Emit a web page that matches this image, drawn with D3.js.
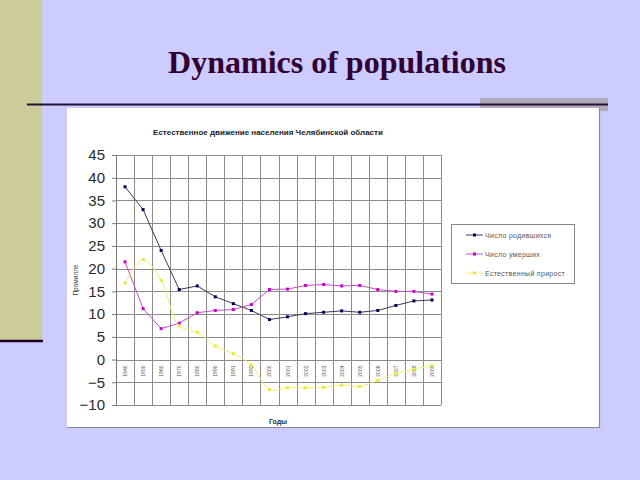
<!DOCTYPE html>
<html>
<head>
<meta charset="utf-8">
<script src="https://cdn.jsdelivr.net/npm/d3@7"></script>
<style>
  html, body { margin: 0; padding: 0; background: #ccccff; }
  svg { display: block; }
</style>
</head>
<body>
<div id="chart"></div>
<script>
// categories (years) and series values, per mille
var years = ["1940", "1950", "1960", "1970", "1980", "1990", "1991", "1992", "2000",
             "2001", "2002", "2003", "2004", "2005", "2006", "2007", "2008", "2009"];
var births = [38, 33, 24, 15.4, 16.2, 13.8, 12.3, 10.8, 8.8,
              9.4, 10.1, 10.4, 10.7, 10.4, 10.8, 11.9, 12.9, 13.1];
var deaths = [21.5, 11.2, 6.8, 8.0, 10.3, 10.8, 11.0, 12.1, 15.4,
              15.5, 16.3, 16.5, 16.2, 16.3, 15.4, 15.0, 15.0, 14.4];
var growth = [16.8, 22, 17.4, 7.4, 6.0, 3.0, 1.3, -1.2, -6.6,
              -6.2, -6.2, -6.1, -5.6, -5.9, -4.6, -3.1, -2.1, -1.3];
var yTicks = [-10, -5, 0, 5, 10, 15, 20, 25, 30, 35, 40, 45];
var seriesNames = ["Число родившихся", "Число умерших", "Естественный прирост"];

var W = 640, H = 480;

var svg = d3.select("#chart").append("svg")
    .attr("width", W)
    .attr("height", H);

// slide background
svg.append("rect").attr("width", W).attr("height", H).attr("fill", "#ccccff");
svg.append("rect").attr("x", 0).attr("y", 0).attr("width", 42).attr("height", 341)
    .attr("fill", "#cccc99");
svg.append("line").attr("x1", 0).attr("x2", 43).attr("y1", 341).attr("y2", 341)
    .attr("stroke", "#220022").attr("stroke-width", 2.5);

svg.append("text")
    .attr("x", 337).attr("y", 73)
    .attr("text-anchor", "middle")
    .attr("font-family", "Liberation Serif, Times New Roman, serif")
    .attr("font-weight", "bold")
    .attr("font-size", 32)
    .attr("fill", "#330033")
    .text("Dynamics of populations");

// rule under title
svg.append("rect").attr("x", 480).attr("y", 98).attr("width", 128).attr("height", 13)
    .attr("fill", "#b0aabb");
svg.append("line").attr("x1", 27).attr("x2", 608).attr("y1", 104.5).attr("y2", 104.5)
    .attr("stroke", "#221133").attr("stroke-width", 2);

// chart panel
svg.append("rect").attr("x", 67).attr("y", 108).attr("width", 532).attr("height", 319)
    .attr("fill", "#ffffff");
svg.append("path").attr("d", "M599.5,108V427.5H67")
    .attr("fill", "none").attr("stroke", "#888899").attr("stroke-width", 1.2);

var margin = {top: 155, left: 116};
var width = 325, height = 250;

var g = svg.append("g")
    .attr("transform", "translate(" + margin.left + "," + margin.top + ")");

var x = d3.scaleBand().domain(years).range([0, width]);
var y = d3.scaleLinear().domain([-10, 45]).range([height, 0]);

// horizontal gridlines
g.selectAll(".hgrid")
    .data(yTicks)
    .enter()
    .append("line")
    .attr("class", "hgrid")
    .attr("x1", 0).attr("x2", width)
    .attr("y1", function(d) { return Math.round(y(d)) + 0.5; })
    .attr("y2", function(d) { return Math.round(y(d)) + 0.5; })
    .attr("stroke", "#8c8c8c").attr("stroke-width", 1);

// vertical gridlines at category boundaries
var bounds = years.map(function(d) { return x(d); }).concat([width]);
g.selectAll(".vgrid")
    .data(bounds)
    .enter()
    .append("line")
    .attr("class", "vgrid")
    .attr("x1", function(d) { return Math.round(d) + 0.5; })
    .attr("x2", function(d) { return Math.round(d) + 0.5; })
    .attr("y1", 0).attr("y2", height)
    .attr("stroke", "#8c8c8c").attr("stroke-width", 1);

// y axis
var yAxis = d3.axisLeft(y).tickValues(yTicks).tickSize(4).tickPadding(7);
var ya = g.append("g").attr("class", "y axis").call(yAxis);
ya.select(".domain").attr("stroke", "#777");
ya.selectAll(".tick line").attr("stroke", "#777");
ya.selectAll("text")
    .attr("font-family", "Liberation Sans, Arial, sans-serif")
    .attr("font-size", 15)
    .attr("fill", "#2a2a2a");

// category labels, rotated, just under zero line
g.selectAll(".cat")
    .data(years)
    .enter()
    .append("text")
    .attr("class", "cat")
    .attr("transform", function(d) {
        return "translate(" + (x(d) + x.bandwidth() / 2 + 2) + "," + (y(0) + 6) + ") rotate(-90)";
    })
    .attr("text-anchor", "end")
    .attr("font-family", "Liberation Sans, Arial, sans-serif")
    .attr("font-size", 5)
    .attr("fill", "#555")
    .text(function(d) { return d; });

// series
var series = [
    {name: seriesNames[0], values: births, line: "#3a3a5a", mark: "#000055", curve: d3.curveLinear},
    {name: seriesNames[1], values: deaths, line: "#c050c8", mark: "#cc00cc", curve: d3.curveLinear},
    {name: seriesNames[2], values: growth, line: "#f0f070", mark: "#e8e840", curve: d3.curveCatmullRom}
];

series.forEach(function(s) {
    var pts = years.map(function(yr, i) { return {year: yr, v: s.values[i]}; });
    var line = d3.line()
        .x(function(d) { return x(d.year) + x.bandwidth() / 2; })
        .y(function(d) { return y(d.v); })
        .curve(s.curve);

    g.append("path")
        .datum(pts)
        .attr("fill", "none")
        .attr("stroke", s.line)
        .attr("stroke-width", 1)
        .attr("d", line);

    g.selectAll(null)
        .data(pts)
        .enter()
        .append("rect")
        .attr("x", function(d) { return x(d.year) + x.bandwidth() / 2 - 1.5; })
        .attr("y", function(d) { return y(d.v) - 1.5; })
        .attr("width", 3).attr("height", 3)
        .attr("fill", s.mark);
});

// chart title, axis labels
svg.append("text")
    .attr("x", 268).attr("y", 135)
    .attr("text-anchor", "middle")
    .attr("font-family", "Liberation Sans, Arial, sans-serif")
    .attr("font-weight", "bold")
    .attr("font-size", 8)
    .attr("fill", "#222")
    .text("Естественное движение населения Челябинской области");

svg.append("text")
    .attr("transform", "translate(78,280) rotate(-90)")
    .attr("text-anchor", "middle")
    .attr("font-family", "Liberation Sans, Arial, sans-serif")
    .attr("font-size", 6.5)
    .attr("fill", "#333")
    .text("Промилле");

svg.append("text")
    .attr("x", 278).attr("y", 424)
    .attr("text-anchor", "middle")
    .attr("font-family", "Liberation Sans, Arial, sans-serif")
    .attr("font-weight", "bold")
    .attr("font-size", 7)
    .attr("fill", "#333")
    .text("Годы");

// legend
var lg = svg.append("g").attr("transform", "translate(451,224)");
lg.append("rect").attr("x", 0.5).attr("y", 0.5).attr("width", 123).attr("height", 59)
    .attr("fill", "#fff").attr("stroke", "#888").attr("stroke-width", 1);

var items = lg.selectAll(".item")
    .data(series)
    .enter()
    .append("g")
    .attr("class", "item")
    .attr("transform", function(d, i) { return "translate(0," + (11 + i * 19) + ")"; });

items.append("line")
    .attr("x1", 15).attr("x2", 32)
    .attr("stroke", function(d) { return d.line; })
    .attr("stroke-width", 1);
items.append("rect")
    .attr("x", 22).attr("y", -1.5).attr("width", 3).attr("height", 3)
    .attr("fill", function(d) { return d.mark; });
items.append("text")
    .attr("x", 34).attr("y", 2.5)
    .attr("font-family", "Liberation Sans, Arial, sans-serif")
    .attr("font-size", 7)
    .attr("letter-spacing", 0.3)
    .attr("fill", "#555")
    .text(function(d) { return d.name; });
</script>
</body>
</html>
